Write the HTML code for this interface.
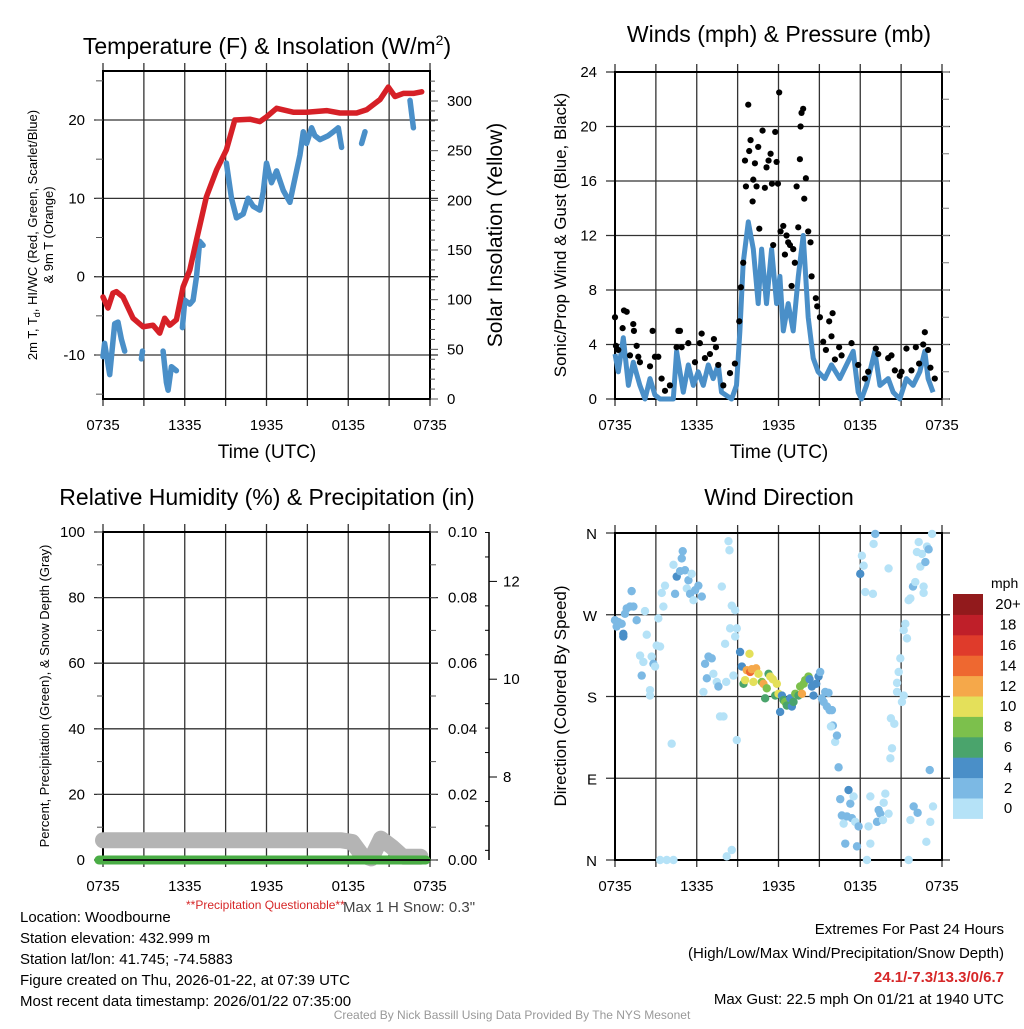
<!DOCTYPE html>
<html><head><meta charset="utf-8">
<style>
body{margin:0;background:#fff;}
svg text{font-family:"Liberation Sans",Arial,sans-serif;fill:#000;}
</style></head>
<body>
<svg id="s" width="1024" height="1024" viewBox="0 0 1024 1024" xmlns="http://www.w3.org/2000/svg">
<rect width="1024" height="1024" fill="#fff"/>
<text x="267" y="54" font-size="23" text-anchor="middle">Temperature (F) &amp; Insolation (W/m<tspan dy="-9" font-size="14">2</tspan><tspan dy="9">)</tspan></text>
<text x="779" y="42" font-size="23" text-anchor="middle">Winds (mph) &amp; Pressure (mb)</text>
<text x="267" y="505" font-size="23" text-anchor="middle">Relative Humidity (%) &amp; Precipitation (in)</text>
<text x="779" y="505" font-size="23" text-anchor="middle">Wind Direction</text>

<g id="tl"></g>
<g id="tr"></g>
<g id="bl"></g>
<g id="br"></g>

<text x="267" y="458" font-size="19" text-anchor="middle">Time (UTC)</text>
<text x="779" y="458" font-size="19" text-anchor="middle">Time (UTC)</text>
<text transform="translate(37,235) rotate(-90)" font-size="13" text-anchor="middle">2m T, T<tspan font-size="9" dy="3">d</tspan><tspan dy="-3">, HI/WC (Red, Green, Scarlet/Blue)</tspan></text>
<text transform="translate(53,235) rotate(-90)" font-size="13" text-anchor="middle">&amp; 9m T (Orange)</text>
<text transform="translate(502,235) rotate(-90)" font-size="21" text-anchor="middle">Solar Insolation (Yellow)</text>
<text transform="translate(566,235) rotate(-90)" font-size="17" text-anchor="middle">Sonic/Prop Wind &amp; Gust (Blue, Black)</text>
<text transform="translate(49,696) rotate(-90)" font-size="13" text-anchor="middle">Percent, Precipitation (Green), &amp; Snow Depth (Gray)</text>
<text transform="translate(566,696) rotate(-90)" font-size="17" text-anchor="middle">Direction (Colored By Speed)</text>

<text x="186" y="909" font-size="12" fill="#d62728" style="fill:#d62728">**Precipitation Questionable**</text>
<text x="343" y="912" font-size="15" style="fill:#444">Max 1 H Snow: 0.3"</text>

<g font-size="15">
<text x="20" y="922">Location: Woodbourne</text>
<text x="20" y="943">Station elevation: 432.999 m</text>
<text x="20" y="964">Station lat/lon: 41.745; -74.5883</text>
<text x="20" y="985">Figure created on Thu, 2026-01-22, at 07:39 UTC</text>
<text x="20" y="1006">Most recent data timestamp: 2026/01/22 07:35:00</text>
</g>
<g font-size="15" text-anchor="end">
<text x="1004" y="934">Extremes For Past 24 Hours</text>
<text x="1004" y="958">(High/Low/Max Wind/Precipitation/Snow Depth)</text>
<text x="1004" y="982" font-weight="bold" style="fill:#d62728">24.1/-7.3/13.3/0/6.7</text>
<text x="1004" y="1004">Max Gust: 22.5 mph On 01/21 at 1940 UTC</text>
</g>
<text x="512" y="1019" font-size="12" text-anchor="middle" style="fill:#999">Created By Nick Bassill Using Data Provided By The NYS Mesonet</text>
</svg>
<script>
const xTickLabels=["0735","1335","1935","0135","0735"];
// Temperature (F) red
const tHours=[0,.37,.73,.98,1.47,2.2,2.94,3.67,4.16,4.53,4.9,5.39,5.88,6.37,6.86,7.59,8.33,9.06,9.67,10.78,11.51,12,12.74,13.96,14.94,16.41,17.39,18.61,19.35,20.33,20.94,21.43,22.04,22.78,23.39];
const tVals=[-2.6,-4,-2.1,-1.9,-2.6,-5.3,-6.4,-6.2,-7.2,-5.3,-6.2,-5.5,-1.3,0.85,4.7,10.2,13.6,16.2,20,20.1,19.8,20.4,21.5,21,21,21.2,20.9,20.9,21.3,22.6,24.2,23,23.4,23.4,23.6];
// Dewpoint / wind chill blue (null = gap)
const dHours=[0,.12,.49,.86,1.1,1.35,1.59,null,2.82,2.9,null,4.41,4.65,4.78,5.02,5.39,null,5.83,6,6.37,6.61,6.86,7.1,7.35,null,9.06,9.43,9.8,10.29,10.65,11.02,11.51,11.76,12,12.37,12.74,13.23,13.72,13.96,14.45,14.7,14.94,15.31,15.55,15.92,16.53,16.9,17.27,17.51,null,18.98,19.23,null,22.53,22.78];
const dVals=[-10.2,-8.5,-12.5,-6,-5.8,-8,-9.5,null,-10.5,-9.5,null,-9.5,-13.5,-14.5,-11.5,-12,null,-6.5,-3,-3.5,-3,0,4.5,4,null,14.5,10,7.5,8,10,9,8.5,10.8,14.5,12,13.5,11,9.5,11.5,15.5,18.5,17,19,18,17.5,18,18.5,19,16.5,null,17,18.5,null,22.5,19];
const tYTicks=[-10,0,10,20];
const insTicks=[0,50,100,150,200,250,300];
// Wind
const wHours=[0,.24,.61,.98,1.34,1.83,2.2,2.57,2.93,3.3,4.28,4.52,5.01,5.38,5.75,6.11,6.48,6.85,7.21,7.58,7.82,8.56,8.92,9.17,9.41,9.78,10.15,10.51,10.76,11.12,11.49,11.86,12.1,12.35,12.71,13.08,13.45,13.81,14.18,14.55,14.91,15.4,15.89,16.5,16.99,17.48,17.85,18.09,18.46,19.07,19.44,20.05,20.42,20.9,21.39,21.88,22.37,22.74,22.98,23.35];
const wSpeed=[3.3,2,4.5,1,2.7,1,0,1.5,0.3,0,0,3.5,0.5,2.5,1,2,1,2.5,1.5,2.5,0.5,0,1,5,10,13,11,7,11,7,11,7,9,5,7,5,9,12,6,3,2,1.5,2.5,1.5,2.5,3.5,0.5,0,1,3.5,1,1.5,0.5,0,1.5,1,2,3.5,1.5,0.5];
const gHours=[0,.07,.24,.56,.66,.86,1.1,1.34,1.39,1.59,1.71,1.83,2.57,2.76,2.93,3.18,3.42,3.67,4.03,4.52,4.65,4.77,4.89,5.38,5.87,6.23,6.36,6.6,6.97,7.26,7.41,7.58,7.95,8.44,8.8,9.12,9.24,9.41,9.54,9.61,9.78,9.85,9.95,10.1,10.15,10.27,10.39,10.51,10.59,10.83,11,11.12,11.27,11.42,11.52,11.61,11.76,11.86,11.96,12.05,12.15,12.35,12.47,12.59,12.71,12.84,12.96,13.08,13.2,13.33,13.45,13.57,13.62,13.69,13.81,13.89,14.01,14.18,14.35,14.43,14.74,14.84,15.04,15.28,15.48,15.72,15.89,15.97,16.14,16.45,16.63,17.36,17.85,18.34,18.58,19.14,19.32,20.05,20.29,20.54,20.9,21.03,21.39,21.76,22.08,22.32,22.62,22.74,22.98,23.15,23.47];
const gSpeed=[6,3.9,3.6,5.2,6.5,6.4,3.2,5.5,5,3.9,3.1,2.7,2.4,5,3.1,3.1,1.5,0.6,1,3.8,5,5,3.8,4.1,2.7,4.1,4.8,3,3.3,4.4,3.8,2.5,1,1.9,2.6,5.7,8.2,10,17.5,15.6,21.6,18.2,19,14.5,16.1,17.3,15.6,18.5,12.5,19.7,15.5,17,17.5,18,15.8,11.3,19.6,17.4,15.8,22.5,12.3,12.7,10.6,12,11.5,11.3,8.3,11,10,15.6,12.6,17.6,20,21,21.3,14.7,16.2,12.3,11.5,9,7.4,6.8,6,4.2,3.6,5.7,4.6,6.3,2.9,3.8,3.2,4.1,2.5,1.5,2,3.7,3.3,3,3.2,2.1,1.7,2,3.7,2.1,3.8,2.6,4,4.9,3.6,2.3,1.5];
const wTicks=[0,4,8,12,16,20,24];
// Humidity / precip / snow
const snowHours=[0,1,3,6,9,12,15,17.5,18.3,19,19.7,20.4,21.2,22,23.3];
const snowVals=[6,6,6,6,6,6,6,6,5.5,1.5,0.5,6.5,4,1,1];
const precipHours=[-0.3,23.7];
const precipVals=[0,0];
const rhTicks=[0,20,40,60,80,100];
const precipTicks=["0.00","0.02","0.04","0.06","0.08","0.10"];
const pressTicks=[8,10,12];
// Wind direction
const wdHours=[0,.12,.24,.49,.61,.61,.73,.86,1.1,1.22,1.35,1.59,1.84,1.96,2.08,2.2,2.33,2.57,2.57,2.69,2.82,2.94,3.06,3.18,3.31,3.43,3.55,3.67,4.29,4.41,4.53,4.78,4.9,4.97,5.14,5.27,5.39,5.51,5.63,5.76,5.88,6.12,6.37,6.49,6.61,6.74,6.86,7.1,7.22,7.47,7.59,7.71,7.84,7.96,8.08,8.16,8.33,8.4,8.57,8.82,8.45,8.94,8.82,8.69,8.94,4.16,3.31,3.8,4.29,8.2,8.57,9.18,9.31,9.43,9.55,9.67,9.87,9.92,10.04,10.16,10.36,10.53,10.78,10.9,11.02,11.14,11.27,11.39,11.58,11.76,11.88,12,12.12,12.25,12.37,12.49,12.61,12.86,12.98,13.1,13.23,13.47,13.59,13.72,13.84,13.96,14.2,14.28,14.45,14.57,14.77,14.94,15.06,15.18,15.31,15.43,15.55,15.67,15.75,15.92,15.99,15.85,16.16,16.29,16.41,16.53,16.65,16.78,16.9,17.02,17.14,17.27,17.39,17.51,17.63,17.88,17.76,18,18.12,18.25,18.37,18.49,18.61,18.74,18.74,18.93,18.98,19.1,19.23,19.35,19.47,19.67,19.72,19.84,20.08,20.08,20.21,20.33,20.25,20.5,20.7,20.82,20.7,20.94,21.06,21.19,21.19,21.43,21.31,21.55,21.68,21.55,21.68,21.87,21.92,22.04,22.16,22.29,22.21,22.41,22.53,22.65,22.65,22.78,22.9,22.85,23.02,23.1,23.14,23.27,23.34];
const wdDir=[264,257,262,260,249,246,271,277,279,296,279,264,225,203,218,274,248,187,181,224,216,213,236,266,235,294,279,302,325,293,312,318,332,340,319,299,308,293,315,286,297,302,290,185,216,200,224,222,205,196,191,158,301,158,238,196,351,341,280,275,255,255,246,203,132,128,0,0,0,4,11,229,213,194,198,209,227,207,210,196,211,205,196,194,178,189,205,202,199,181,194,183,163,181,176,174,170,178,169,174,183,181,191,183,194,198,202,199,191,181,194,202,207,178,174,185,169,184,165,165,148,147,130,137,102,67,49,40,18,48,77,62,46,70,42,37,15,315,335,324,295,0,37,70,18,293,348,359,42,55,51,44,63,73,51,321,112,123,156,150,195,207,185,222,174,181,253,244,260,286,288,0,44,301,59,306,339,350,52,323,337,301,294,328,345,20,342,99,42,359,59];
const wdSpeed=[3,3,3,3,5,5,3,3,3,3,3,3,1,3,1,1,1,1,1,1,3,1,1,1,1,1,1,1,1,3,5,3,3,3,3,1,3,3,1,1,3,3,3,1,3,3,3,3,1,1,3,1,1,1,1,1,1,1,1,1,1,1,1,1,1,1,1,1,1,1,1,5,5,7,11,13,11,15,13,11,13,11,9,13,7,9,7,11,11,7,11,11,5,5,7,9,7,5,5,7,9,7,9,13,9,9,9,5,5,5,5,5,3,3,3,3,3,3,3,3,3,1,1,3,3,3,3,1,3,3,5,3,3,1,1,3,3,5,1,1,1,1,1,1,1,1,1,3,3,3,3,1,1,1,1,1,1,1,1,1,1,1,1,1,1,1,1,1,1,1,1,1,1,3,3,1,1,1,3,1,1,1,1,3,1,1,3,3,1,1,1,1,1,1,1,1];
const dirLabels=["N","E","S","W","N"];
const cbLabels=["0","2","4","6","8","10","12","14","16","18","20+"];
const cbColors=["#b5e2f7","#7cb9e4","#4a8fc8","#4aa46c","#7cc04c","#e4e05a","#f5a84a","#ee6830","#df3b2b","#bf1f29","#921a1c"];

const NS="http://www.w3.org/2000/svg";
function mk(tag,attrs,parent){const e=document.createElementNS(NS,tag);for(const k in attrs)e.setAttribute(k,attrs[k]);parent.appendChild(e);return e;}
function frame(g,x0,x1,y0,y1,xs,hLines){
  for(let h=0;h<=24;h+=3){const x=xs(h);
    const l=mk('line',{x1:x,x2:x,y1:y0-8,y2:y1+7,stroke:'#333','stroke-width':1.3},g);
    
    }
  hLines.forEach(y=>{const l=mk('line',{x1:x0-9,x2:x1+8,y1:y,y2:y,stroke:'#333','stroke-width':1.3},g);
    
    });
  const r=mk('rect',{x:x0,y:y0,width:x1-x0,height:y1-y0,fill:'none',stroke:'#000','stroke-width':2},g);
  
  
  xTickLabels.forEach((t,i)=>{const tx=mk('text',{x:xs(i*6),y:y1+31,'font-size':15,'text-anchor':'middle'},g);tx.textContent=t;
    
    });
}
function pathFrom(xsArr,ysArr,xs,ys){let d='',pen=false;for(let i=0;i<xsArr.length;i++){if(xsArr[i]===null||ysArr[i]===null){pen=false;continue;}d+=(pen?'L':'M')+xs(xsArr[i]).toFixed(1)+','+ys(ysArr[i]).toFixed(1);pen=true;}return d;}

// ---- TL
(function(){const g=document.getElementById('tl');const x0=103,x1=430,y0=71,y1=399;
  const xs=h=>x0+h/24*(x1-x0);const ys=v=>355-(v+10)*7.833;const yi=v=>399-v*0.9933;
  frame(g,x0,x1,y0,y1,xs,tYTicks.map(ys));
  for(let v=-15;v<=25;v+=5){const m=mk('line',{x1:x0-7,x2:x0,y1:ys(v),y2:ys(v),stroke:'#555'},g);
    
    }
  for(let v=0;v<=320;v+=10){const m=mk('line',{x1:x1,x2:x1+(v%50?5:8),y1:yi(v),y2:yi(v),stroke:'#555'},g);
    
    }
  tYTicks.forEach(v=>{const t=mk('text',{x:x0-18,y:ys(v)+5,'font-size':15,'text-anchor':'end'},g);t.textContent=v;
    
    });
  insTicks.forEach(v=>{const t=mk('text',{x:x1+17,y:yi(v)+5,'font-size':15},g);t.textContent=v;
    
    });
  const b=mk('path',{d:pathFrom(dHours,dVals,xs,ys),fill:'none',stroke:'#4a8fc8','stroke-width':5.5,'stroke-linejoin':'round','stroke-linecap':'round'},g);
  
  
  const r=mk('path',{d:pathFrom(tHours,tVals,xs,ys),fill:'none',stroke:'#d62027','stroke-width':5.5,'stroke-linejoin':'round','stroke-linecap':'round'},g);
  
  
})();

// ---- TR
(function(){const g=document.getElementById('tr');const x0=615,x1=942,y0=72,y1=399;
  const xs=h=>x0+h/24*(x1-x0);const ys=v=>y1-v/24*(y1-y0);
  frame(g,x0,x1,y0,y1,xs,wTicks.map(ys));
  for(let v=0;v<=24;v+=2){const m=mk('line',{x1:x1,x2:x1+7,y1:ys(v),y2:ys(v),stroke:'#777'},g);
    
    }
  wTicks.forEach(v=>{const t=mk('text',{x:x0-18,y:ys(v)+5,'font-size':15,'text-anchor':'end'},g);t.textContent=v;
    
    });
  const b=mk('path',{d:pathFrom(wHours,wSpeed,xs,ys),fill:'none',stroke:'#4a8fc8','stroke-width':5,'stroke-linejoin':'round'},g);
  
  
  gHours.forEach((h,i)=>{const c=mk('circle',{cx:xs(h),cy:ys(gSpeed[i]),r:3.1,fill:'#000'},g);
    
    });
})();

// ---- BL
(function(){const g=document.getElementById('bl');const x0=103,x1=430,y0=532,y1=860;
  const xs=h=>x0+h/24*(x1-x0);const ys=v=>y1-v/100*(y1-y0);
  frame(g,x0,x1,y0,y1,xs,rhTicks.map(ys));
  for(let v=0;v<=100;v+=10){const m=mk('line',{x1:x0-6,x2:x0,y1:ys(v),y2:ys(v),stroke:'#555'},g);
    
    
    const m2=mk('line',{x1:x1,x2:x1+6,y1:ys(v),y2:ys(v),stroke:'#555'},g);
    
    }
  rhTicks.forEach(v=>{const t=mk('text',{x:x0-18,y:ys(v)+5,'font-size':15,'text-anchor':'end'},g);t.textContent=v;
    
    });
  precipTicks.forEach((v,i)=>{const t=mk('text',{x:x1+18,y:ys(i*20)+5,'font-size':15},g);t.textContent=v;
    
    });
  const ax=mk('line',{x1:489,x2:489,y1:532,y2:860,stroke:'#000','stroke-width':1.5},g);
  
  
  const yp=p=>777-(p-8)*48.9;
  for(let p=6.5;p<=13;p+=0.5){const y=yp(p);if(y<532||y>860)continue;const m=mk('line',{x1:489-(p%2===0?0:4),x2:489+(p%2===0?8:0),y1:y,y2:y,stroke:'#000'},g);
    
    }
  pressTicks.forEach(p=>{const t=mk('text',{x:503,y:yp(p)+5,'font-size':15},g);t.textContent=p;
    
    });
  const s=mk('path',{d:pathFrom(snowHours,snowVals,xs,ys),fill:'none',stroke:'#b4b4b4','stroke-width':16,'stroke-linejoin':'round','stroke-linecap':'round'},g);
  
  
  const p=mk('path',{d:pathFrom(precipHours,precipVals,xs,ys),fill:'none',stroke:'#4aad45','stroke-width':9,'stroke-linecap':'round'},g);
  
  
  const z=mk('line',{x1:x0,x2:x1,y1:y1,y2:y1,stroke:'#111','stroke-width':2},g);
  
  
})();

// ---- BR
(function(){const g=document.getElementById('br');const x0=615,x1=942,y0=533,y1=860;
  const xs=h=>x0+h/24*(x1-x0);const ys=d=>y1-d/360*(y1-y0);
  frame(g,x0,x1,y0,y1,xs,[0,90,180,270,360].map(ys));
  dirLabels.forEach((l,i)=>{const t=mk('text',{x:x0-18,y:ys(i*90)+6,'font-size':15,'text-anchor':'end'},g);t.textContent=l;
    
    });
  const col=s=>cbColors[Math.min(10,Math.floor(s/2))];
  wdHours.forEach((h,i)=>{const c=mk('circle',{cx:xs(h),cy:ys(wdDir[i]),r:4.2,fill:col(wdSpeed[i])},g);
    
    });
  const cy0=594,bh=20.4;
  const u=mk('text',{x:991,y:588,'font-size':14},g);u.textContent='mph';
  
  
  cbColors.forEach((c,i)=>{const j=10-i;const r=mk('rect',{x:953,y:cy0+j*bh,width:30,height:bh+0.5,fill:c},g);
    
    
    const t=mk('text',{x:1008,y:cy0+j*bh+bh/2+5,'font-size':15,'text-anchor':'middle'},g);t.textContent=cbLabels[i];
    
    });
})();
</script>
</body></html>
